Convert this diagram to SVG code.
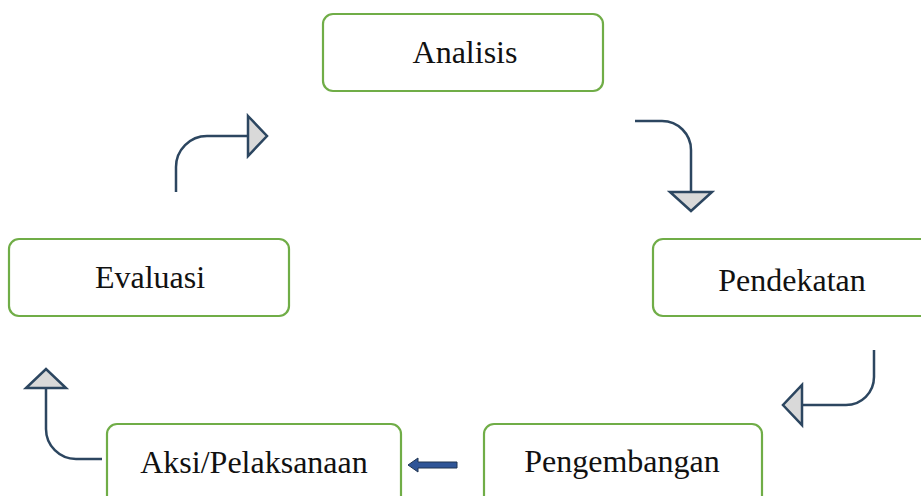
<svg xmlns="http://www.w3.org/2000/svg" width="921" height="496" viewBox="0 0 921 496">
<style>
.box{fill:#fff;stroke:#70ad47;stroke-width:2.2}
.lbl{font-family:"Liberation Serif","Times New Roman",serif;font-size:32px;fill:#111;text-anchor:middle}
.ln{fill:none;stroke:#2c4660;stroke-width:2.5}
.hd{fill:#d9d9d9;stroke:#2c4660;stroke-width:2.5;stroke-linejoin:miter}
</style>
<rect width="921" height="496" fill="#fff"/>
<g id="analisis"><rect class="box" x="323" y="14" width="280" height="77" rx="10"/><text class="lbl" x="465" y="63">Analisis</text></g>
<g id="pendekatan"><rect class="box" x="653" y="239" width="282" height="77" rx="10"/><text class="lbl" x="792" y="291">Pendekatan</text></g>
<g id="evaluasi"><rect class="box" x="9" y="239" width="280" height="77" rx="10"/><text class="lbl" x="150" y="288">Evaluasi</text></g>
<g id="aksi"><rect class="box" x="107" y="424" width="294" height="82" rx="10"/><text class="lbl" x="254" y="473">Aksi/Pelaksanaan</text></g>
<g id="pengembangan"><rect class="box" x="484" y="424" width="278" height="82" rx="10"/><text class="lbl" x="622" y="472">Pengembangan</text></g>
<g id="connectors">
<path class="ln" d="M176 192 V167 A31 31 0 0 1 207 136 H248"/>
<polygon class="hd" points="248,116 267,136 248,156"/>
<path class="ln" d="M635 121 H662 A29 29 0 0 1 691 150 V192"/>
<polygon class="hd" points="670,192 712,192 691,211"/>
<path class="ln" d="M874 350 V377 A28 28 0 0 1 846 405 H802"/>
<polygon class="hd" points="802,385 802,425 783,405"/>
<path class="ln" d="M102 459 H76 A30 30 0 0 1 46 429 V388"/>
<polygon class="hd" points="26,388 66,388 46,369"/>
<polygon points="457,462 418,462 418,458 408,465 418,472 418,468 457,468" fill="#2f5597" stroke="#1f3550" stroke-width="1"/>
</g>
</svg>
